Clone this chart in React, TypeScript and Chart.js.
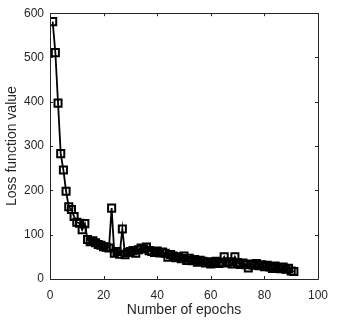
import React, { useEffect, useRef } from "react";
import { Chart, registerables } from "chart.js";

Chart.register(...registerables);

const epochs: number[] = Array.from({ length: 91 }, (_, i) => i + 1);
const loss: number[] = [
  581, 511, 397, 283, 246, 198, 163, 157, 141, 128,
  126, 111, 125, 89, 84, 86, 82, 78, 76, 73,
  72, 70, 160, 58, 62, 56, 113, 55, 60, 62,
  64, 58, 66, 70, 68, 72, 64, 62, 60, 63,
  59, 61, 58, 49, 55, 52, 48, 50, 46, 52,
  42, 47, 41, 44, 38, 42, 40, 36, 39, 34,
  37, 40, 35, 38, 50, 36, 39, 34, 50, 37,
  33, 36, 32, 25, 34, 31, 35, 30, 32, 28,
  31, 27, 24, 29, 26, 23, 27, 22, 24, 18,
  17,
];
const xTicks: number[] = [0, 20, 40, 60, 80, 100];
const yTicks: number[] = [0, 100, 200, 300, 400, 500, 600];
const xTitle = "Number of epochs";
const yTitle = "Loss function value";

const AXIS = "#262626";
const FONT = "'Liberation Sans', Arial, Helvetica, sans-serif";

const boxPlugin = {
  id: "matlabBox",
  afterDatasetsDraw(chart: any) {
    const { ctx, chartArea } = chart;
    const xs = chart.scales.x;
    const ys = chart.scales.y;
    const { left, right, top, bottom } = chartArea;
    ctx.save();
    ctx.strokeStyle = AXIS;
    ctx.lineWidth = 1;
    ctx.beginPath();
    ctx.rect(Math.round(left) + 0.5, Math.round(top) + 0.5, Math.round(right - left), Math.round(bottom - top));
    ctx.stroke();
    const tl = 3;
    ctx.beginPath();
    xTicks.forEach((v) => {
      const px = Math.round(xs.getPixelForValue(v)) + 0.5;
      ctx.moveTo(px, bottom);
      ctx.lineTo(px, bottom - tl);
      ctx.moveTo(px, top);
      ctx.lineTo(px, top + tl);
    });
    yTicks.forEach((v) => {
      const py = Math.round(ys.getPixelForValue(v)) + 0.5;
      ctx.moveTo(left, py);
      ctx.lineTo(left + tl, py);
      ctx.moveTo(right, py);
      ctx.lineTo(right - tl, py);
    });
    ctx.stroke();
    ctx.restore();
  },
};

export default function App() {
  const ref = useRef<HTMLCanvasElement | null>(null);
  useEffect(() => {
    if (!ref.current) return;
    const chart = new Chart(ref.current, {
      type: "line",
      data: {
        datasets: [
          {
            data: epochs.map((e, i) => ({ x: e, y: loss[i] })),
            borderColor: "#000000",
            borderWidth: 1.8,
            pointStyle: "rect",
            pointRadius: 5,
            pointBorderWidth: 2,
            pointBorderColor: "#000000",
            pointBackgroundColor: "rgba(0,0,0,0)",
            tension: 0,
            fill: false,
          },
        ],
      },
      options: {
        animation: false,
        responsive: false,
        maintainAspectRatio: false,
        layout: { padding: { left: 0, right: 10, top: 11, bottom: 0 } },
        plugins: { legend: { display: false }, tooltip: { enabled: false } },
        scales: {
          x: {
            type: "linear",
            min: 0,
            max: 100,
            afterFit: (s: any) => {
              s.height = 46;
            },
            afterBuildTicks: (s: any) => {
              s.ticks = xTicks.map((v) => ({ value: v }));
            },
            grid: { display: false, drawTicks: false },
            border: { display: false },
            ticks: {
              color: AXIS,
              font: { family: FONT, size: 12 },
              padding: 9,
              maxRotation: 0,
            },
            title: {
              display: true,
              text: xTitle,
              color: AXIS,
              font: { family: FONT, size: 14 },
              padding: { top: 0, bottom: 6 },
            },
          },
          y: {
            type: "linear",
            min: 0,
            max: 600,
            afterFit: (s: any) => {
              s.width = 50;
            },
            afterBuildTicks: (s: any) => {
              s.ticks = yTicks.map((v) => ({ value: v }));
            },
            grid: { display: false, drawTicks: false },
            border: { display: false },
            ticks: {
              color: AXIS,
              font: { family: FONT, size: 12 },
              padding: 6,
            },
            title: {
              display: true,
              text: yTitle,
              color: AXIS,
              font: { family: FONT, size: 14 },
              padding: { top: 4, bottom: 0 },
            },
          },
        },
      },
      plugins: [boxPlugin],
    });
    return () => chart.destroy();
  }, []);
  return (
    <div style={{ position: "fixed", left: 0, top: 0, width: 337, height: 325, background: "#fff" }}>
      <canvas ref={ref} width={337} height={325} style={{ width: 337, height: 325, display: "block" }} />
    </div>
  );
}
